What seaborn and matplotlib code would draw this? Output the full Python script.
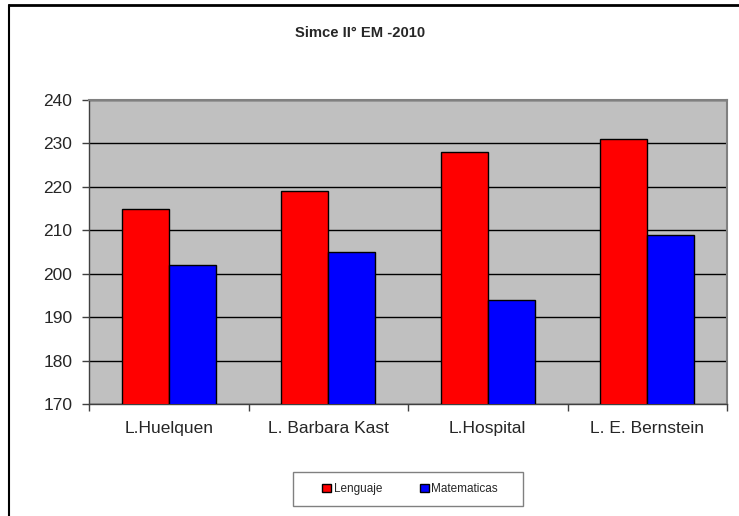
import matplotlib
matplotlib.use("Agg")
import matplotlib.pyplot as plt
import seaborn as sns
import pandas as pd
from matplotlib.patches import Patch, Rectangle
from matplotlib.lines import Line2D
from matplotlib.ticker import FixedLocator

categories = ["L.Huelquen", "L. Barbara Kast", "L.Hospital", "L. E. Bernstein"]
lenguaje = [215, 219, 228, 231]
matematicas = [202, 205, 194, 209]
series_names = ["Lenguaje", "Matematicas"]
y_ticks = [170, 180, 190, 200, 210, 220, 230, 240]
title = "Simce II° EM -2010"

df = pd.DataFrame({
    "Escuela": categories * 2,
    "Puntaje": lenguaje + matematicas,
    "Asignatura": [series_names[0]] * len(categories) + [series_names[1]] * len(categories),
})

sns.set_style("white")
plt.rcParams["font.family"] = ["Liberation Sans", "DejaVu Sans"]

fig = plt.figure(figsize=(7.39, 5.16), dpi=100)
ax = fig.add_axes([89 / 739, 1 - 404 / 516, (727 - 89) / 739, (404 - 100) / 516])

colors = {"Lenguaje": "#FF0000", "Matematicas": "#0000FF"}
sns.barplot(data=df, x="Escuela", y="Puntaje", hue="Asignatura", palette=colors,
            saturation=1, width=0.59, gap=0, edgecolor="black", linewidth=1, ax=ax,
            legend=False, zorder=3)

ax.set_facecolor("#C0C0C0")
ax.set_ylim(170, 240)
ax.set_xlim(-0.5, len(categories) - 0.5)
ax.set_yticks(y_ticks)
ax.yaxis.grid(True, color="black", linewidth=1, zorder=1)
ax.set_axisbelow(True)
ax.set_xlabel("")
ax.set_ylabel("")
for s in ["top", "right"]:
    ax.spines[s].set_color("#808080")
    ax.spines[s].set_linewidth(1.5)
for s in ["left", "bottom"]:
    ax.spines[s].set_color("#404040")
    ax.spines[s].set_linewidth(1)

ax.tick_params(axis="y", which="major", direction="out", length=5, width=1,
               color="#404040", left=True, labelsize=12.5, pad=7)
ax.tick_params(axis="x", which="major", length=0, labelsize=12.5, pad=12)
ax.xaxis.set_minor_locator(FixedLocator([i - 0.5 for i in range(len(categories) + 1)]))
ax.tick_params(axis="x", which="minor", direction="out", length=5, width=1,
               color="#404040", bottom=True)

fig.text(360 / 739, 1 - 33 / 516, title, ha="center", va="center",
         fontsize=10.6, fontweight="bold")

# legend box
fig.add_artist(Rectangle((293 / 739, 1 - 506 / 516), 230 / 739, 34 / 516,
                         facecolor="white", edgecolor="#808080", linewidth=1,
                         transform=fig.transFigure))
handles = [Patch(facecolor=colors[n], edgecolor="black", linewidth=1, label=n) for n in series_names]
leg = fig.legend(handles=handles, loc="center", bbox_to_anchor=(410 / 739, 1 - 489 / 516),
                 ncol=2, frameon=False, fontsize=8.5, handlelength=0.75, handleheight=0.75,
                 handletextpad=0.2, columnspacing=3.2, borderpad=0)

fig.add_artist(Line2D([9 / 739, 9 / 739], [0, 1 - 4.5 / 516], color="black", linewidth=1.5,
                      transform=fig.transFigure))
fig.add_artist(Line2D([9 / 739, 1], [1 - 4.5 / 516, 1 - 4.5 / 516], color="black", linewidth=2,
                      transform=fig.transFigure))

fig.savefig("out.png", dpi=100)
